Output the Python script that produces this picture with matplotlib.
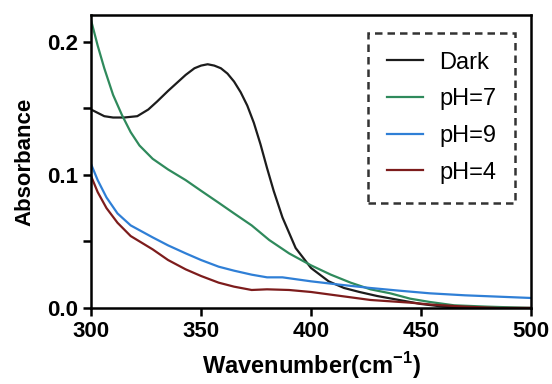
import matplotlib

matplotlib.use("Agg")
import matplotlib.pyplot as plt
from matplotlib.ticker import MultipleLocator

plt.rcParams["font.family"] = ["Liberation Sans", "DejaVu Sans"]
plt.rcParams["mathtext.fontset"] = "custom"
plt.rcParams["mathtext.bf"] = "Liberation Sans:bold"
plt.rcParams["mathtext.rm"] = "Liberation Sans:bold"

# values (wavenumber, absorbance)
dark_x = [300, 306, 310, 315, 321, 326, 330, 335, 339, 343, 347, 350, 353, 356,
          359, 362, 365, 368, 371, 374, 377, 380, 383, 387, 393, 400, 408, 415,
          422, 430, 440, 450, 460, 470, 500]
dark_y = [0.149, 0.144, 0.143, 0.143, 0.144, 0.149, 0.155, 0.163, 0.169, 0.175,
          0.180, 0.182, 0.183, 0.182, 0.180, 0.176, 0.170, 0.162, 0.152, 0.139,
          0.123, 0.105, 0.088, 0.068, 0.045, 0.030, 0.020, 0.015, 0.012, 0.009,
          0.006, 0.003, 0.001, 0.0, 0.0]

ph7_x = [300, 303, 306, 310, 314, 318, 322, 328, 335, 343, 350, 358, 365, 373,
         381, 390, 400, 409, 418, 427, 436, 445, 454, 465, 480, 500]
ph7_y = [0.216, 0.197, 0.180, 0.160, 0.145, 0.132, 0.122, 0.112, 0.104, 0.096,
         0.088, 0.079, 0.071, 0.062, 0.051, 0.041, 0.032, 0.025, 0.019, 0.014,
         0.011, 0.007, 0.0045, 0.002, 0.001, 0.0]

ph9_x = [300, 303, 307, 312, 318, 328, 335, 343, 350, 358, 365, 373, 380, 387,
         400, 413, 427, 440, 454, 470, 485, 500]
ph9_y = [0.108, 0.096, 0.083, 0.071, 0.062, 0.053, 0.047, 0.041, 0.036, 0.031,
         0.028, 0.025, 0.023, 0.023, 0.020, 0.0175, 0.015, 0.013, 0.011, 0.0095,
         0.0085, 0.0075]

ph4_x = [300, 303, 307, 312, 318, 328, 335, 343, 350, 358, 365, 373, 380, 390,
         400, 409, 418, 427, 436, 445, 455, 470, 485, 500]
ph4_y = [0.099, 0.087, 0.075, 0.064, 0.054, 0.044, 0.036, 0.029, 0.024, 0.019,
         0.016, 0.0135, 0.014, 0.0135, 0.012, 0.010, 0.008, 0.006, 0.005, 0.004,
         0.0025, 0.001, 0.0, 0.0]

series = [("Dark", dark_x, dark_y, "#1c1c1c"),
          ("pH=7", ph7_x, ph7_y, "#2f8a5c"),
          ("pH=9", ph9_x, ph9_y, "#2f7fd6"),
          ("pH=4", ph4_x, ph4_y, "#7d1c1c")]

fig = plt.figure(figsize=(5.52, 3.84), dpi=100)
ax = fig.add_axes([0.165, 0.198, 0.797, 0.763])

for name, xs, ys, col in series:
    ax.plot(xs, ys, color=col, lw=1.6, label=name)

ax.set_xlim(300, 500)
ax.set_ylim(0, 0.22)
ax.xaxis.set_major_locator(MultipleLocator(50))
ax.yaxis.set_major_locator(MultipleLocator(0.1))
ax.yaxis.set_minor_locator(MultipleLocator(0.05))
ax.set_yticklabels([f"{v:.1f}" for v in ax.get_yticks()])
for s in ax.spines.values():
    s.set_linewidth(1.8)
ax.tick_params(which="both", direction="out", width=1.8, length=6,
               labelsize=16)
for lbl in ax.get_xticklabels() + ax.get_yticklabels():
    lbl.set_fontweight("bold")

ax.set_xlabel(r"Wavenumber(cm$^{\mathbf{-1}}$)", fontsize=17, fontweight="bold",
              labelpad=6)
ax.set_ylabel("Absorbance", fontsize=16, fontweight="bold", labelpad=8)

leg = ax.legend(loc="upper right", bbox_to_anchor=(0.964, 0.939), fontsize=17,
                handlelength=1.5, fancybox=False, edgecolor="black",
                borderpad=0.8, labelspacing=0.62, handletextpad=0.7,
                borderaxespad=0)
leg.get_frame().set_linestyle((0, (3, 2)))
leg.get_frame().set_linewidth(1.8)

fig.savefig("out.png", dpi=100)
